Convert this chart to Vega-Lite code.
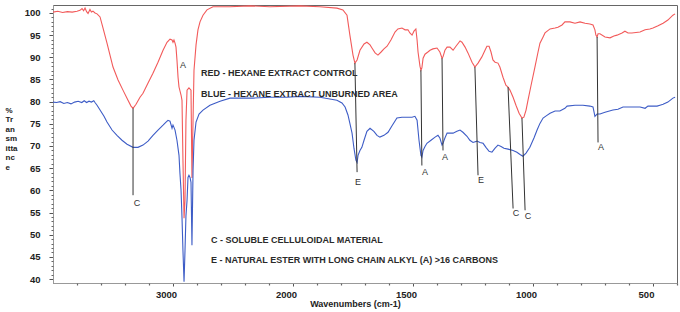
{
  "$schema": "https://vega.github.io/schema/vega-lite/v6.json",
  "width": 624,
  "height": 278,
  "autosize": {"type": "none"},
  "padding": {"left": 53, "top": 5, "right": 3, "bottom": 29},
  "background": "white",
  "config": {"view": {"stroke": "#666", "strokeWidth": 1}, "font": "Liberation Sans"},
  "resolve": {"axis": {"x": "independent", "y": "independent"}},
  "datasets": {
    "spectra": [
      {"s":"red","wn":4000,"t":100.2},{"s":"red","wn":3960,"t":100.4},{"s":"red","wn":3920,"t":100.1},{"s":"red","wn":3880,"t":100.3},{"s":"red","wn":3840,"t":100.2},{"s":"red","wn":3800,"t":100.4},{"s":"red","wn":3775,"t":100.6},{"s":"red","wn":3758,"t":101.0},{"s":"red","wn":3745,"t":100.5},{"s":"red","wn":3733,"t":101.1},{"s":"red","wn":3720,"t":100.3},{"s":"red","wn":3708,"t":99.9},{"s":"red","wn":3692,"t":100.8},{"s":"red","wn":3680,"t":100.2},{"s":"red","wn":3667,"t":100.4},{"s":"red","wn":3650,"t":100.0},
      {"s":"red","wn":3633,"t":99.8},{"s":"red","wn":3608,"t":99.1},{"s":"red","wn":3583,"t":96.6},{"s":"red","wn":3550,"t":93.2},{"s":"red","wn":3525,"t":90.5},{"s":"red","wn":3500,"t":87.8},{"s":"red","wn":3458,"t":84.9},{"s":"red","wn":3417,"t":82.6},{"s":"red","wn":3375,"t":80.3},{"s":"red","wn":3350,"t":79.0},{"s":"red","wn":3333,"t":78.5},{"s":"red","wn":3308,"t":79.4},{"s":"red","wn":3275,"t":81.0},{"s":"red","wn":3250,"t":81.9},{"s":"red","wn":3208,"t":84.2},{"s":"red","wn":3167,"t":86.4},{"s":"red","wn":3125,"t":88.9},{"s":"red","wn":3083,"t":91.6},{"s":"red","wn":3050,"t":93.4},{"s":"red","wn":3025,"t":94.1},{"s":"red","wn":3008,"t":93.9},{"s":"red","wn":3000,"t":93.4},{"s":"red","wn":2992,"t":93.9},{"s":"red","wn":2983,"t":93.2},{"s":"red","wn":2975,"t":92.3},{"s":"red","wn":2967,"t":89.4},{"s":"red","wn":2958,"t":85.5},{"s":"red","wn":2950,"t":83.3},{"s":"red","wn":2933,"t":81.5},{"s":"red","wn":2925,"t":80.3},{"s":"red","wn":2917,"t":66.8},{"s":"red","wn":2908,"t":53.7},{"s":"red","wn":2900,"t":57.7},{"s":"red","wn":2892,"t":75.8},{"s":"red","wn":2883,"t":82.6},{"s":"red","wn":2867,"t":83.1},{"s":"red","wn":2850,"t":82.6},{"s":"red","wn":2842,"t":62.8},{"s":"red","wn":2833,"t":75.8},{"s":"red","wn":2825,"t":87.1},{"s":"red","wn":2808,"t":92.8},{"s":"red","wn":2792,"t":96.2},{"s":"red","wn":2775,"t":98.0},{"s":"red","wn":2750,"t":99.5},{"s":"red","wn":2717,"t":100.7},{"s":"red","wn":2667,"t":101.4},{"s":"red","wn":2525,"t":101.4},{"s":"red","wn":2358,"t":101.6},{"s":"red","wn":2192,"t":101.4},{"s":"red","wn":1971,"t":101.6},{"s":"red","wn":1888,"t":101.4},{"s":"red","wn":1817,"t":101.1},{"s":"red","wn":1792,"t":100.7},{"s":"red","wn":1775,"t":99.5},{"s":"red","wn":1763,"t":95.0},{"s":"red","wn":1750,"t":90.5},{"s":"red","wn":1742,"t":88.7},{"s":"red","wn":1733,"t":89.4},{"s":"red","wn":1721,"t":91.6},{"s":"red","wn":1704,"t":93.0},{"s":"red","wn":1692,"t":93.4},{"s":"red","wn":1679,"t":92.8},{"s":"red","wn":1671,"t":92.1},{"s":"red","wn":1658,"t":91.0},{"s":"red","wn":1646,"t":90.5},{"s":"red","wn":1633,"t":91.2},{"s":"red","wn":1621,"t":91.9},{"s":"red","wn":1608,"t":92.5},{"s":"red","wn":1592,"t":93.9},{"s":"red","wn":1575,"t":95.7},{"s":"red","wn":1563,"t":96.4},{"s":"red","wn":1546,"t":96.6},{"s":"red","wn":1533,"t":96.2},{"s":"red","wn":1521,"t":96.2},{"s":"red","wn":1513,"t":95.5},{"s":"red","wn":1504,"t":95.0},{"s":"red","wn":1496,"t":95.9},{"s":"red","wn":1488,"t":96.4},{"s":"red","wn":1483,"t":93.9},{"s":"red","wn":1479,"t":91.2},{"s":"red","wn":1471,"t":88.0},{"s":"red","wn":1467,"t":87.1},{"s":"red","wn":1463,"t":87.6},{"s":"red","wn":1458,"t":89.8},{"s":"red","wn":1450,"t":90.7},{"s":"red","wn":1438,"t":91.2},{"s":"red","wn":1429,"t":91.6},{"s":"red","wn":1417,"t":91.9},{"s":"red","wn":1400,"t":92.1},{"s":"red","wn":1388,"t":91.2},{"s":"red","wn":1379,"t":89.8},{"s":"red","wn":1375,"t":90.1},{"s":"red","wn":1367,"t":91.6},{"s":"red","wn":1358,"t":92.3},{"s":"red","wn":1346,"t":92.3},{"s":"red","wn":1333,"t":91.6},{"s":"red","wn":1321,"t":92.5},{"s":"red","wn":1304,"t":93.7},{"s":"red","wn":1296,"t":93.4},{"s":"red","wn":1283,"t":92.3},{"s":"red","wn":1271,"t":91.0},{"s":"red","wn":1254,"t":88.9},{"s":"red","wn":1242,"t":87.8},{"s":"red","wn":1229,"t":88.7},{"s":"red","wn":1213,"t":90.1},{"s":"red","wn":1200,"t":91.6},{"s":"red","wn":1192,"t":92.5},{"s":"red","wn":1183,"t":92.5},{"s":"red","wn":1175,"t":91.2},{"s":"red","wn":1167,"t":89.4},{"s":"red","wn":1158,"t":88.9},{"s":"red","wn":1146,"t":88.7},{"s":"red","wn":1138,"t":87.8},{"s":"red","wn":1125,"t":85.5},{"s":"red","wn":1113,"t":83.7},{"s":"red","wn":1104,"t":83.3},{"s":"red","wn":1096,"t":82.6},{"s":"red","wn":1083,"t":81.0},{"s":"red","wn":1071,"t":79.2},{"s":"red","wn":1058,"t":77.4},{"s":"red","wn":1046,"t":76.3},{"s":"red","wn":1038,"t":76.5},{"s":"red","wn":1029,"t":78.1},{"s":"red","wn":1021,"t":80.3},{"s":"red","wn":1008,"t":83.7},{"s":"red","wn":992,"t":87.8},{"s":"red","wn":979,"t":91.2},{"s":"red","wn":971,"t":93.2},{"s":"red","wn":958,"t":94.6},{"s":"red","wn":950,"t":95.5},{"s":"red","wn":929,"t":96.4},{"s":"red","wn":908,"t":96.6},{"s":"red","wn":896,"t":96.8},{"s":"red","wn":879,"t":97.3},{"s":"red","wn":867,"t":98.0},{"s":"red","wn":846,"t":98.0},{"s":"red","wn":825,"t":97.7},{"s":"red","wn":804,"t":98.0},{"s":"red","wn":783,"t":97.7},{"s":"red","wn":763,"t":97.5},{"s":"red","wn":750,"t":97.3},{"s":"red","wn":742,"t":96.2},{"s":"red","wn":738,"t":95.0},{"s":"red","wn":733,"t":94.6},{"s":"red","wn":729,"t":95.3},{"s":"red","wn":721,"t":95.3},{"s":"red","wn":700,"t":94.6},{"s":"red","wn":679,"t":94.4},{"s":"red","wn":663,"t":94.8},{"s":"red","wn":650,"t":95.0},{"s":"red","wn":629,"t":95.5},{"s":"red","wn":617,"t":95.9},{"s":"red","wn":604,"t":95.5},{"s":"red","wn":588,"t":95.5},{"s":"red","wn":554,"t":95.7},{"s":"red","wn":533,"t":96.2},{"s":"red","wn":513,"t":96.4},{"s":"red","wn":500,"t":96.6},{"s":"red","wn":479,"t":97.1},{"s":"red","wn":458,"t":97.7},{"s":"red","wn":438,"t":98.4},{"s":"red","wn":417,"t":99.5},{"s":"red","wn":408,"t":99.8},
      {"s":"blue","wn":4000,"t":79.9},{"s":"blue","wn":3970,"t":79.8},{"s":"blue","wn":3940,"t":80.0},{"s":"blue","wn":3910,"t":79.6},{"s":"blue","wn":3880,"t":79.8},{"s":"blue","wn":3850,"t":79.5},{"s":"blue","wn":3820,"t":79.9},{"s":"blue","wn":3790,"t":80.1},{"s":"blue","wn":3760,"t":79.8},{"s":"blue","wn":3740,"t":80.2},{"s":"blue","wn":3720,"t":79.8},{"s":"blue","wn":3700,"t":80.1},{"s":"blue","wn":3680,"t":79.9},{"s":"blue","wn":3660,"t":80.2},{"s":"blue","wn":3650,"t":79.8},
      {"s":"blue","wn":3633,"t":79.2},{"s":"blue","wn":3608,"t":78.1},{"s":"blue","wn":3575,"t":76.7},{"s":"blue","wn":3550,"t":75.4},{"s":"blue","wn":3508,"t":73.6},{"s":"blue","wn":3467,"t":72.4},{"s":"blue","wn":3425,"t":71.3},{"s":"blue","wn":3383,"t":70.4},{"s":"blue","wn":3333,"t":69.7},{"s":"blue","wn":3292,"t":69.7},{"s":"blue","wn":3250,"t":70.2},{"s":"blue","wn":3208,"t":71.1},{"s":"blue","wn":3167,"t":72.4},{"s":"blue","wn":3125,"t":73.6},{"s":"blue","wn":3083,"t":74.7},{"s":"blue","wn":3058,"t":75.4},{"s":"blue","wn":3042,"t":75.8},{"s":"blue","wn":3025,"t":75.6},{"s":"blue","wn":3008,"t":74.0},{"s":"blue","wn":3000,"t":74.7},{"s":"blue","wn":2992,"t":74.2},{"s":"blue","wn":2983,"t":73.6},{"s":"blue","wn":2967,"t":71.3},{"s":"blue","wn":2950,"t":67.9},{"s":"blue","wn":2942,"t":63.8},{"s":"blue","wn":2933,"t":60.0},{"s":"blue","wn":2925,"t":53.9},{"s":"blue","wn":2917,"t":46.4},{"s":"blue","wn":2908,"t":39.4},{"s":"blue","wn":2900,"t":46.4},{"s":"blue","wn":2892,"t":54.3},{"s":"blue","wn":2883,"t":57.7},{"s":"blue","wn":2875,"t":62.9},{"s":"blue","wn":2867,"t":63.4},{"s":"blue","wn":2858,"t":62.9},{"s":"blue","wn":2850,"t":61.8},{"s":"blue","wn":2842,"t":47.6},{"s":"blue","wn":2833,"t":64.5},{"s":"blue","wn":2825,"t":71.3},{"s":"blue","wn":2808,"t":75.4},{"s":"blue","wn":2783,"t":77.2},{"s":"blue","wn":2750,"t":78.1},{"s":"blue","wn":2692,"t":79.2},{"s":"blue","wn":2608,"t":80.1},{"s":"blue","wn":2525,"t":80.8},{"s":"blue","wn":2333,"t":80.8},{"s":"blue","wn":2192,"t":81.0},{"s":"blue","wn":2050,"t":81.0},{"s":"blue","wn":1971,"t":81.2},{"s":"blue","wn":1888,"t":81.0},{"s":"blue","wn":1817,"t":80.3},{"s":"blue","wn":1796,"t":79.7},{"s":"blue","wn":1783,"t":78.8},{"s":"blue","wn":1771,"t":77.0},{"s":"blue","wn":1763,"t":75.1},{"s":"blue","wn":1754,"t":72.9},{"s":"blue","wn":1746,"t":69.5},{"s":"blue","wn":1738,"t":66.8},{"s":"blue","wn":1733,"t":66.3},{"s":"blue","wn":1729,"t":67.9},{"s":"blue","wn":1721,"t":69.0},{"s":"blue","wn":1713,"t":69.7},{"s":"blue","wn":1704,"t":71.3},{"s":"blue","wn":1692,"t":73.3},{"s":"blue","wn":1679,"t":74.0},{"s":"blue","wn":1663,"t":73.3},{"s":"blue","wn":1650,"t":72.4},{"s":"blue","wn":1638,"t":72.0},{"s":"blue","wn":1621,"t":72.4},{"s":"blue","wn":1604,"t":73.1},{"s":"blue","wn":1588,"t":74.5},{"s":"blue","wn":1567,"t":76.3},{"s":"blue","wn":1546,"t":76.5},{"s":"blue","wn":1525,"t":76.5},{"s":"blue","wn":1504,"t":76.5},{"s":"blue","wn":1492,"t":76.7},{"s":"blue","wn":1483,"t":75.8},{"s":"blue","wn":1475,"t":71.3},{"s":"blue","wn":1467,"t":67.9},{"s":"blue","wn":1463,"t":67.5},{"s":"blue","wn":1458,"t":69.0},{"s":"blue","wn":1450,"t":69.9},{"s":"blue","wn":1442,"t":70.6},{"s":"blue","wn":1425,"t":71.3},{"s":"blue","wn":1408,"t":72.0},{"s":"blue","wn":1396,"t":72.4},{"s":"blue","wn":1388,"t":71.8},{"s":"blue","wn":1379,"t":70.2},{"s":"blue","wn":1375,"t":70.6},{"s":"blue","wn":1367,"t":71.8},{"s":"blue","wn":1358,"t":72.9},{"s":"blue","wn":1346,"t":72.9},{"s":"blue","wn":1333,"t":72.9},{"s":"blue","wn":1317,"t":73.3},{"s":"blue","wn":1304,"t":73.6},{"s":"blue","wn":1292,"t":73.1},{"s":"blue","wn":1275,"t":72.2},{"s":"blue","wn":1263,"t":71.3},{"s":"blue","wn":1250,"t":70.8},{"s":"blue","wn":1233,"t":71.1},{"s":"blue","wn":1221,"t":70.8},{"s":"blue","wn":1208,"t":70.6},{"s":"blue","wn":1196,"t":69.7},{"s":"blue","wn":1183,"t":68.8},{"s":"blue","wn":1171,"t":68.6},{"s":"blue","wn":1158,"t":69.5},{"s":"blue","wn":1146,"t":70.2},{"s":"blue","wn":1133,"t":69.9},{"s":"blue","wn":1121,"t":69.5},{"s":"blue","wn":1104,"t":69.3},{"s":"blue","wn":1083,"t":69.0},{"s":"blue","wn":1067,"t":68.6},{"s":"blue","wn":1054,"t":68.1},{"s":"blue","wn":1042,"t":67.7},{"s":"blue","wn":1029,"t":68.4},{"s":"blue","wn":1013,"t":69.7},{"s":"blue","wn":996,"t":71.8},{"s":"blue","wn":983,"t":73.6},{"s":"blue","wn":971,"t":75.1},{"s":"blue","wn":958,"t":76.3},{"s":"blue","wn":942,"t":76.9},{"s":"blue","wn":929,"t":77.4},{"s":"blue","wn":908,"t":77.9},{"s":"blue","wn":888,"t":77.9},{"s":"blue","wn":867,"t":78.5},{"s":"blue","wn":858,"t":79.0},{"s":"blue","wn":825,"t":79.2},{"s":"blue","wn":792,"t":79.2},{"s":"blue","wn":763,"t":79.0},{"s":"blue","wn":750,"t":78.8},{"s":"blue","wn":742,"t":76.7},{"s":"blue","wn":733,"t":77.2},{"s":"blue","wn":721,"t":77.2},{"s":"blue","wn":700,"t":77.6},{"s":"blue","wn":667,"t":78.1},{"s":"blue","wn":646,"t":78.3},{"s":"blue","wn":625,"t":78.8},{"s":"blue","wn":596,"t":78.8},{"s":"blue","wn":554,"t":78.8},{"s":"blue","wn":533,"t":78.5},{"s":"blue","wn":521,"t":79.0},{"s":"blue","wn":504,"t":79.0},{"s":"blue","wn":483,"t":79.0},{"s":"blue","wn":471,"t":79.2},{"s":"blue","wn":458,"t":79.4},{"s":"blue","wn":438,"t":79.9},{"s":"blue","wn":417,"t":80.8},{"s":"blue","wn":408,"t":81.0}
    ],
    "rules": [
      {"wn":3333,"t":78.5,"wn2":3333,"t2":58.9},
      {"wn":1742,"t":88.7,"wn2":1733,"t2":64.1},
      {"wn":1467,"t":87.1,"wn2":1463,"t2":65.6},
      {"wn":1379,"t":89.8,"wn2":1375,"t2":69.0},
      {"wn":1242,"t":87.8,"wn2":1229,"t2":63.4},
      {"wn":1104,"t":83.3,"wn2":1083,"t2":55.9},
      {"wn":1046,"t":76.3,"wn2":1033,"t2":55.5},
      {"wn":733,"t":94.6,"wn2":729,"t2":70.8}
    ],
    "letters": [
      {"label":"C","wn":3300,"t":57.1},
      {"label":"A","wn":2917,"t":88.2},
      {"label":"E","wn":1729,"t":61.8},
      {"label":"A","wn":1450,"t":64.1},
      {"label":"A","wn":1367,"t":67.5},
      {"label":"E","wn":1217,"t":62.3},
      {"label":"C","wn":1071,"t":54.8},
      {"label":"C","wn":1021,"t":54.1},
      {"label":"A","wn":717,"t":69.7}
    ],
    "notes": [
      {"text":"RED - HEXANE EXTRACT CONTROL","wn":2767,"t":86.4},
      {"text":"BLUE - HEXANE EXTRACT UNBURNED AREA","wn":2767,"t":81.7},
      {"text":"C - SOLUBLE CELLULOIDAL MATERIAL","wn":2683,"t":48.9},
      {"text":"E - NATURAL ESTER WITH LONG CHAIN ALKYL (A) >16 CARBONS","wn":2683,"t":44.4}
    ]
  },
  "layer": [
    {
      "data": {"name": "spectra"},
      "mark": {"type": "line", "strokeWidth": 1.1},
      "encoding": {
        "x": {
          "field": "wn", "type": "quantitative",
          "scale": {"domain": [4000, 2000, 400], "range": [0, 240, 624], "zero": false, "nice": false},
          "axis": {
            "orient": "bottom",
            "values": [3000, 2000, 1500, 1000, 500],
            "format": "d",
            "labelFlush": false,
            "labelFont": "Liberation Sans", "labelFontSize": 9.5, "labelFontWeight": "bold", "labelColor": "#222",
            "labelOffset": -7, "labelPadding": 3,
            "tickSize": 3, "tickColor": "#555", "domainColor": "#999", "grid": false,
            "title": "Wavenumbers (cm-1)", "titleFont": "Liberation Sans", "titleFontSize": 9, "titleFontWeight": "bold", "titleColor": "#222",
            "titleX": 302, "titleY": 20.5, "titleAlign": "center", "titleBaseline": "middle"
          }
        },
        "y": {
          "field": "t", "type": "quantitative",
          "scale": {"domain": [39.1, 101.8], "zero": false, "nice": false},
          "axis": {
            "orient": "left",
            "values": [40, 45, 50, 55, 60, 65, 70, 75, 80, 85, 90, 95, 100],
            "labelFlush": false,
            "labelFont": "Liberation Sans", "labelFontSize": 9.5, "labelFontWeight": "bold", "labelColor": "#222",
            "labelPadding": 9, "tickSize": 4, "tickColor": "#555", "domainColor": "#999", "grid": false,
            "title": ["%", "Tr", "an", "sm", "itta", "nc", "e"],
            "titleAngle": 0, "titleAlign": "left", "titleBaseline": "top",
            "titleX": -48, "titleY": 101, "titleFont": "Liberation Sans", "titleFontSize": 8, "titleFontWeight": "bold", "titleColor": "#222", "titleLineHeight": 9.5
          }
        },
        "color": {"field": "s", "type": "nominal", "scale": {"domain": ["red", "blue"], "range": ["#f25a5a", "#3d5cc6"]}, "legend": null}
      }
    },
    {
      "data": {"name": "rules"},
      "mark": {"type": "rule", "color": "#333", "strokeWidth": 1},
      "encoding": {
        "x": {"field": "wn", "type": "quantitative", "axis": {
          "orient": "bottom", "values": [3800,3600,3400,3200,2800,2600,2400,2200,1900,1800,1700,1600,1400,1300,1200,1100,900,800,700,600,400],
          "labels": false, "domain": false, "grid": false, "title": null, "tickSize": 2, "tickColor": "#666", "tickWidth": 1.2}},
        "y": {"field": "t", "type": "quantitative", "axis": {
          "orient": "left", "values": [41,42,43,44,46,47,48,49,51,52,53,54,56,57,58,59,61,62,63,64,66,67,68,69,71,72,73,74,76,77,78,79,81,82,83,84,86,87,88,89,91,92,93,94,96,97,98,99,101],
          "labels": false, "domain": false, "grid": false, "title": null, "tickSize": 2, "tickColor": "#666"}},
        "x2": {"field": "wn2"},
        "y2": {"field": "t2"}
      }
    },
    {
      "data": {"name": "letters"},
      "mark": {"type": "text", "fontSize": 9, "font": "Liberation Sans", "color": "#333", "align": "center", "baseline": "middle"},
      "encoding": {
        "x": {"field": "wn", "type": "quantitative", "axis": null},
        "y": {"field": "t", "type": "quantitative", "axis": null},
        "text": {"field": "label"}
      }
    },
    {
      "data": {"name": "notes"},
      "mark": {"type": "text", "fontSize": 9, "font": "Liberation Sans", "fontWeight": "bold", "color": "#2a2a2a", "align": "left", "baseline": "middle"},
      "encoding": {
        "x": {"field": "wn", "type": "quantitative", "axis": null},
        "y": {"field": "t", "type": "quantitative", "axis": null},
        "text": {"field": "text"}
      }
    }
  ]
}
